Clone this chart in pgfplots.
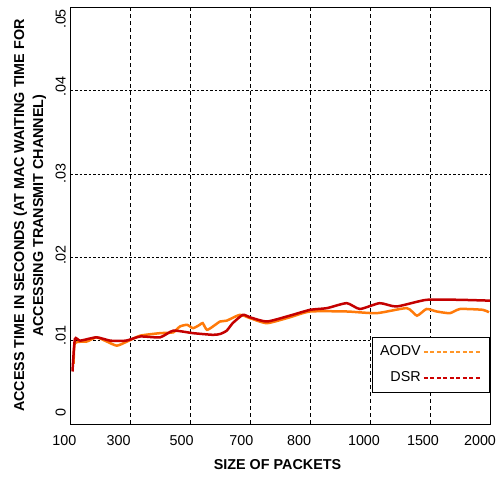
\documentclass[border=0pt]{standalone}
\usepackage{fontspec}
\setmainfont{Liberation Sans}
\usepackage{pgfplots}
\pgfplotsset{compat=1.18}
\definecolor{aodv}{RGB}{255,122,10}
\definecolor{dsr}{RGB}{196,0,0}
\definecolor{aodvleg}{RGB}{255,150,40}
\definecolor{dsrleg}{RGB}{205,0,0}
\newcommand\sh[2]{\makebox[0pt]{\hspace*{#1}#2\hspace*{-#1}}}
\begin{document}
\fontsize{14.4}{17}\selectfont
\begin{tikzpicture}
\path[use as bounding box] (0,0) rectangle (496bp,477bp);
\begin{axis}[
  at={(70.7bp,53bp)}, anchor=south west,
  width=420bp, height=416.7bp, scale only axis,
  xmin=0, xmax=7, ymin=0, ymax=0.05,
  xtick={0,1,2,3,4,5,6,7},
  xticklabels={\sh{-6.4bp}{100},\sh{-12bp}{300},\sh{-9bp}{500},\sh{-9.3bp}{700},\sh{-11.5bp}{800},\sh{-6.7bp}{1000},\sh{-7.7bp}{\raisebox{-2bp}{1500}},\sh{-10.7bp}{2000}},
  ytick={0,0.01,0.02,0.03,0.04,0.05},
  yticklabels={\sh{11bp}{0},\sh{4.9bp}{.01},\sh{2.3bp}{.02},\sh{0bp}{.03},\sh{4bp}{.04},\sh{-11.7bp}{.05}},
  scaled y ticks=false,
  major tick length=0pt,
  axis line style={black, line width=0.9bp},
  xticklabel style={anchor=center, yshift=-16.7bp},
  yticklabel style={xshift=-10bp, rotate=90, anchor=center},
  xmajorgrids, ymajorgrids,
  x grid style={black, line width=0.8bp, dash pattern=on 4bp off 3bp},
  y grid style={black, line width=0.9bp, dash pattern=on 2.5bp off 2bp},
  xlabel={SIZE OF PACKETS},
  xlabel style={font=\fontsize{14.4}{17}\selectfont\bfseries, at={(axis description cs:0.4924,-0.0984)}, anchor=center},
  ylabel={ACCESS TIME IN SECONDS (AT MAC WAITING TIME FOR\\ACCESSING TRANSMIT CHANNEL)},
  ylabel style={font=\fontsize{14.4}{19}\selectfont\bfseries, align=center, at={(axis description cs:-0.097,0.5)}, anchor=center},
  legend style={at={(rel axis cs:0.9967,0.208)}, anchor=north east, draw=black, line width=0.8bp,
    inner xsep=6bp, inner ysep=6bp, row sep=10bp, font=\fontsize{14.4}{17}\selectfont},
  legend plot pos=right, legend cell align=right,
  legend image code/.code={\draw[#1] (0bp,0bp) -- (58bp,0bp);},
]
\addlegendimage{aodvleg, line width=2.2bp, dash pattern=on 4bp off 2.5bp}
\addlegendentry{AODV}
\addlegendimage{dsrleg, line width=2.2bp, dash pattern=on 4bp off 2.5bp}
\addlegendentry{DSR}

\addplot[forget plot, aodv, line width=2.5bp, smooth, tension=0.35] coordinates {
(0.05,0.0072) (0.07,0.0097) (0.27,0.0099) (0.43,0.0104) (0.60,0.0099) (0.77,0.0094)
(0.94,0.0099) (1.16,0.0106) (1.49,0.0109) (1.71,0.0110) (1.82,0.0117) (1.94,0.0119)
(2.04,0.0115) (2.15,0.0119) (2.20,0.0121) (2.27,0.0113) (2.37,0.0117) (2.49,0.0123)
(2.60,0.0124) (2.82,0.0131) (2.99,0.0127) (3.27,0.0121) (3.65,0.0128) (3.99,0.0135)
(4.60,0.0135) (5.10,0.0133) (5.60,0.0139) (5.77,0.0130) (5.93,0.0138) (6.10,0.0135)
(6.32,0.0133) (6.49,0.0138) (6.87,0.0137) (6.97,0.0134)
};
\addplot[forget plot, dsr, line width=2.5bp, smooth, tension=0.35] coordinates {
(0.03,0.0063) (0.07,0.0102) (0.16,0.0100) (0.43,0.0104) (0.66,0.0100) (0.92,0.0100)
(1.16,0.0105) (1.49,0.0104) (1.71,0.0112) (2.04,0.0109) (2.37,0.0107) (2.49,0.0108)
(2.60,0.0112) (2.70,0.0121) (2.87,0.0131) (2.99,0.0128) (3.27,0.0123) (3.65,0.0130)
(3.99,0.0137) (4.27,0.0139) (4.60,0.0145) (4.82,0.0138) (5.15,0.0145) (5.43,0.0141)
(5.93,0.0149) (6.49,0.0149) (6.99,0.0148)
};
\end{axis}
\end{tikzpicture}
\end{document}
